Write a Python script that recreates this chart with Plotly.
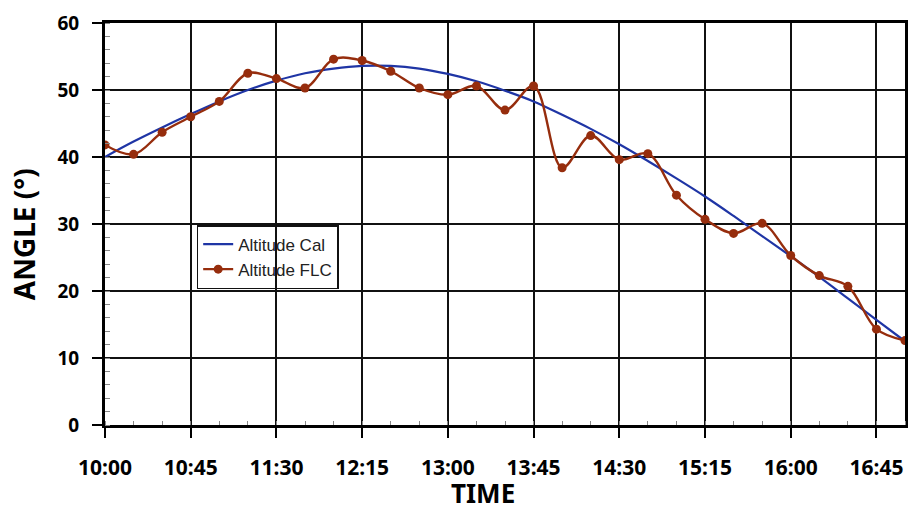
import plotly.graph_objects as go

times = ["10:00", "10:15", "10:30", "10:45", "11:00", "11:15", "11:30", "11:45",
         "12:00", "12:15", "12:30", "12:45", "13:00", "13:15", "13:30", "13:45",
         "14:00", "14:15", "14:30", "14:45", "15:00", "15:15", "15:30", "15:45",
         "16:00", "16:15", "16:30", "16:45", "17:00"]

altitude_cal = [40.0, 42.3, 44.4, 46.4, 48.3, 50.0, 51.4, 52.5,
                53.2, 53.6, 53.6, 53.2, 52.4, 51.3, 49.9, 48.3,
                46.3, 44.2, 41.9, 39.4, 36.8, 34.1, 31.2, 28.2,
                25.2, 22.1, 18.9, 15.7, 12.5]

altitude_flc = [41.8, 40.4, 43.7, 46.0, 48.3, 52.5, 51.7, 50.3,
                54.6, 54.4, 52.8, 50.3, 49.3, 50.6, 47.0, 50.6,
                38.4, 43.2, 39.6, 40.5, 34.3, 30.7, 28.6, 30.1,
                25.3, 22.3, 20.7, 14.3, 12.6]

x_title = "TIME"
y_title = "ANGLE (°)"
names = ["Altitude Cal", "Altitude FLC"]

xs = ["2024-01-01 " + t + ":00" for t in times]

fig = go.Figure()
fig.add_trace(go.Scatter(
    x=xs, y=altitude_cal, name=names[0], mode="lines",
    line=dict(color="#1F35A5", width=2.2, shape="spline"),
))
fig.add_trace(go.Scatter(
    x=xs, y=altitude_flc, name=names[1], mode="lines+markers",
    line=dict(color="#962D0D", width=2.4, shape="spline"),
    marker=dict(color="#962D0D", size=9),
))

fig.update_layout(
    width=913, height=512,
    margin=dict(l=105, r=5, t=23, b=87),
    paper_bgcolor="white", plot_bgcolor="white",
    showlegend=True,
    legend=dict(
        x=0.1146, y=0.4975, xanchor="left", yanchor="top",
        bgcolor="rgba(255,255,255,0)", bordercolor="#111", borderwidth=1.5,
        font=dict(family="Liberation Sans, Arial, sans-serif", size=17, color="#222"),
        itemwidth=30, tracegroupgap=0,
    ),
    annotations=[
        dict(text=x_title, xref="paper", yref="paper", x=0.472, y=-0.169,
             xanchor="center", yanchor="middle", showarrow=False,
             font=dict(family="Noto Sans, sans-serif", size=26, color="#000", weight="bold")),
        dict(text=y_title, xref="paper", yref="paper", x=-0.101, y=0.475,
             xanchor="center", yanchor="middle", showarrow=False, textangle=-90,
             font=dict(family="Noto Sans, sans-serif", size=28, color="#000", weight="bold")),
    ],
)

fig.update_xaxes(
    type="date",
    range=["2024-01-01 10:00:00", "2024-01-01 17:00:00"],
    tick0="2024-01-01 10:00:00", dtick=45 * 60 * 1000,
    tickformat="%H:%M",
    showgrid=True, gridcolor="#111", gridwidth=1.5,
    showline=True, linecolor="#000", linewidth=3, mirror=True,
    ticks="outside", ticklen=10, tickwidth=1.5, tickcolor="#000",
    ticklabelstandoff=12,
    tickfont=dict(family="Noto Sans, sans-serif", size=21, color="#000", weight="bold"),
    minor=dict(dtick=15 * 60 * 1000, ticks="inside", ticklen=4, tickcolor="#888", tickwidth=1, showgrid=False),
    zeroline=False,
)
fig.update_yaxes(
    range=[0, 60], dtick=10, tick0=0,
    showgrid=True, gridcolor="#111", gridwidth=1.5,
    showline=True, linecolor="#000", linewidth=3, mirror=True,
    ticks="outside", ticklen=10, tickwidth=1.5, tickcolor="#000",
    ticklabelstandoff=9,
    tickfont=dict(family="Noto Sans, sans-serif", size=19, color="#000", weight="bold"),
    minor=dict(dtick=2, ticks="inside", ticklen=5, tickcolor="#888", tickwidth=1, showgrid=False),
    zeroline=False,
)

fig.write_html("out.html")
